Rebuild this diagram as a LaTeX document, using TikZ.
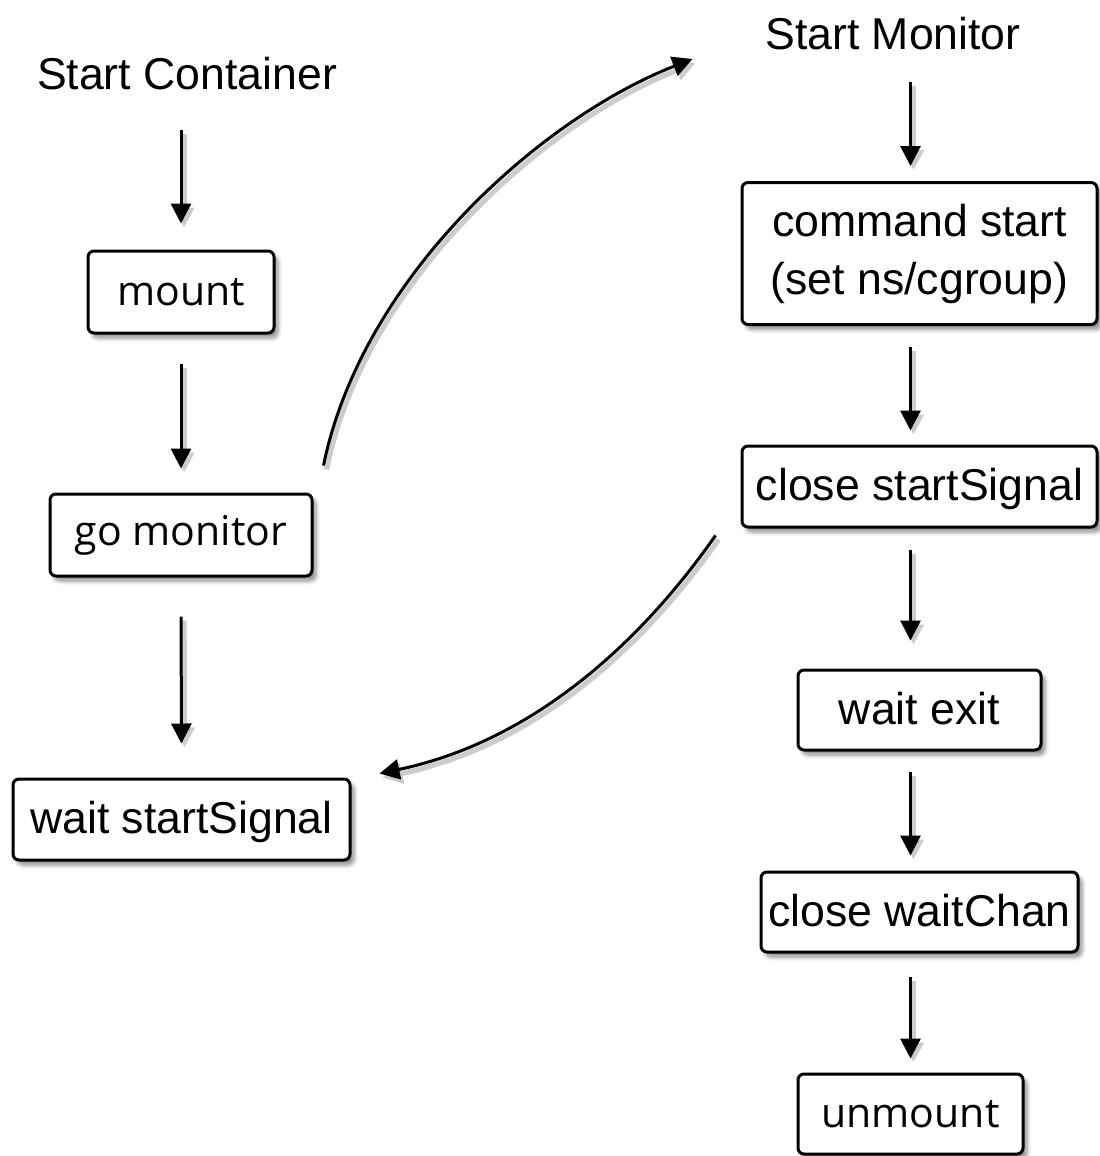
\documentclass[tikz,border=0pt]{standalone}
\usepackage{fontspec}
\setmainfont{Liberation Sans}
\newfontfamily\roundfont{Open Sans}
\usetikzlibrary{arrows.meta,shadows.blur}

\tikzset{
  stepbox/.style={draw=black, line width=1.5pt, rounded corners=3pt, fill=white,
    inner sep=0pt, align=center, font=\fontsize{22.3}{28}\selectfont,
    blur shadow={shadow xshift=2pt, shadow yshift=-2.5pt, shadow blur steps=6,
      shadow blur radius=2pt, shadow opacity=45}},
  lowtext/.style={text height=17pt, text depth=3pt},
  roundtext/.style={font=\roundfont\fontsize{20.5}{26}\selectfont},
  titletext/.style={inner sep=0pt, text depth=0pt, anchor=base,
    font=\fontsize{22.3}{28}\selectfont},
  flow/.style={line width=1.5pt, -{Triangle[length=10pt,width=10pt]},
    preaction={draw=black!20, line width=2.6pt,
      transform canvas={shift={(1.5pt,-2pt)}}}}
}

\begin{document}
\begin{tikzpicture}[x=0.5pt, y=-0.5pt]
  \useasboundingbox (0,0) rectangle (1099,1156);

  % left column: container side
  \node[titletext] (t1) at (187,90) {Start Container};
  \node[stepbox, roundtext, minimum width=93pt, minimum height=41pt] (mnt) at (181,292) {mount};
  \node[stepbox, roundtext, minimum width=131pt, minimum height=41pt] (gomon) at (181,535) {go monitor};
  \node[stepbox, lowtext, minimum width=168.5pt, minimum height=40.5pt] (waitss) at (181.5,819.5) {wait startSignal};

  % right column: monitor side
  \node[titletext] (t2) at (893,50) {Start Monitor};
  \node[stepbox, minimum width=177.5pt, minimum height=71pt, font=\fontsize{22.3}{29}\selectfont] (cmd) at (919.5,253.5) {command start\\(set ns/cgroup)};
  \node[stepbox, lowtext, minimum width=177.5pt, minimum height=40.5pt] (closess) at (919.5,486.5) {close startSignal};
  \node[stepbox, lowtext, minimum width=121.5pt, minimum height=40pt] (waitexit) at (919.5,710) {wait exit};
  \node[stepbox, lowtext, minimum width=158.5pt, minimum height=40pt] (closewc) at (919.5,912) {close waitChan};
  \node[stepbox, roundtext, minimum width=112.5pt, minimum height=40pt] (unmnt) at (910.5,1114) {unmount};

  % left column arrows
  \draw[flow, shorten <=20pt, shorten >=13pt] (t1.south -| mnt.center) -- (mnt.north);
  \draw[flow, shorten <=14.5pt, shorten >=12pt] (mnt.south) -- (gomon.north);
  \draw[flow, shorten <=19.5pt, shorten >=17pt] (gomon.south) -- (waitss.north);

  % right column arrows
  \draw[flow, shorten <=16pt, shorten >=7.5pt] (t2.south -| unmnt.center) -- (cmd.north -| unmnt.center);
  \draw[flow, shorten <=10.5pt, shorten >=7pt] (cmd.south -| unmnt.center) -- (closess.north -| unmnt.center);
  \draw[flow, shorten <=10.5pt, shorten >=14pt] (closess.south -| unmnt.center) -- (waitexit.north -| unmnt.center);
  \draw[flow, shorten <=10pt, shorten >=7.5pt] (waitexit.south -| unmnt.center) -- (closewc.north -| unmnt.center);
  \draw[flow, shorten <=11.5pt, shorten >=7pt] (closewc.south -| unmnt.center) -- (unmnt.north);

  % cross-over arrows
  \draw[flow] ([shift={(10,-27)}]gomon.north east)
    .. controls +(38,-187) and +(-153,60) .. ([shift={(-48,-122)}]cmd.north west);
  \draw[flow] ([shift={(-25,7)}]closess.south west)
    .. controls +(-67,96) and +(162,-34) .. ([shift={(28,-46)}]waitss.east);
\end{tikzpicture}
\end{document}
